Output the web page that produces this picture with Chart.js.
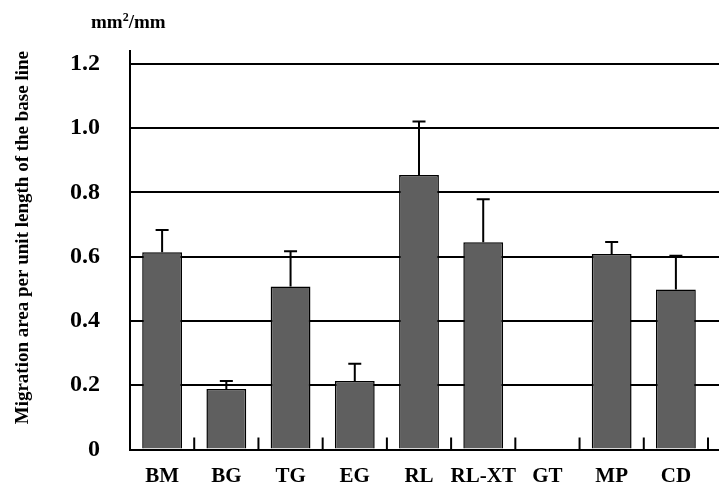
<!DOCTYPE html>
<html lang="en">

<head>
    <meta charset="UTF-8">
    <title>Migration area</title>
    <script src="https://cdn.jsdelivr.net/npm/chart.js"></script>
    <style>
        html, body { margin: 0; padding: 0; background: #fff; overflow: hidden; }
        #wrap { position: relative; width: 719px; height: 489px; }
        #unit {
            position: absolute; left: 91px; top: 10px;
            font: bold 19px "Liberation Serif", "Times New Roman", serif;
        }
    </style>
</head>

<body>
    <div id="wrap">
        <div id="unit">mm<sup style="font-size:12px">2</sup>/mm</div>
        <canvas id="myChart" width="719" height="489"></canvas>
    </div>
    <script>
        // groups and values
        const groups = ['BM', 'BG', 'TG', 'EG', 'RL', 'RL-XT', 'GT', 'MP', 'CD'];
        const meanArea = [0.614, 0.188, 0.507, 0.213, 0.854, 0.645, null, 0.608, 0.498];
        const upperErr = [0.683, 0.213, 0.617, 0.267, 1.021, 0.779, null, 0.646, 0.603];
        const yTicks = [0, 0.2, 0.4, 0.6, 0.8, 1.0, 1.2];

        const serif = '"Liberation Serif", "Times New Roman", serif';

        // error bars (upper only) + inner x ticks + grid lines running to the edge
        const extras = {
            id: 'extras',
            afterDatasetsDraw(chart) {
                const ctx = chart.ctx;
                const x = chart.scales.x;
                const y = chart.scales.y;
                const area = chart.chartArea;
                ctx.save();
                ctx.strokeStyle = '#000';
                ctx.lineWidth = 2;

                // grid lines continue past the last group to the image edge
                yTicks.forEach(v => {
                    const py = Math.round(y.getPixelForValue(v));
                    ctx.beginPath();
                    ctx.moveTo(area.right, py);
                    ctx.lineTo(chart.width, py);
                    ctx.stroke();
                });

                // small upward ticks between groups
                for (let i = 0; i < groups.length; i++) {
                    const px = (x.getPixelForValue(i) + (i + 1 < groups.length ? x.getPixelForValue(i + 1) : 2 * x.getPixelForValue(i) - x.getPixelForValue(i - 1))) / 2;
                    ctx.beginPath();
                    ctx.moveTo(px, area.bottom);
                    ctx.lineTo(px, area.bottom - 12);
                    ctx.stroke();
                }

                // error bars
                upperErr.forEach((e, i) => {
                    if (e === null) return;
                    const px = x.getPixelForValue(i);
                    const top = y.getPixelForValue(e);
                    const base = y.getPixelForValue(meanArea[i]);
                    ctx.beginPath();
                    ctx.moveTo(px, base);
                    ctx.lineTo(px, top);
                    ctx.moveTo(px - 6.5, top);
                    ctx.lineTo(px + 6.5, top);
                    ctx.stroke();
                });
                ctx.restore();
            }
        };

        const ctx = document.getElementById('myChart').getContext('2d');
        const myChart = new Chart(ctx, {
            type: 'bar',
            data: {
                labels: groups,
                datasets: [{
                    data: meanArea,
                    backgroundColor: '#5f5f5f',
                    borderColor: '#000',
                    borderWidth: 1.5,
                    barPercentage: 0.62,
                    categoryPercentage: 1.0
                }]
            },
            options: {
                responsive: false,
                animation: false,
                layout: { padding: { top: 51, right: 11, left: 0, bottom: 0 } },
                plugins: {
                    legend: { display: false },
                    tooltip: { enabled: false }
                },
                scales: {
                    x: {
                        grid: { display: false, drawTicks: false },
                        border: { display: true, color: '#000', width: 2 },
                        ticks: {
                            color: '#000',
                            padding: 14,
                            maxRotation: 0,
                            autoSkip: false,
                            font: { family: serif, size: 21, weight: 'bold' }
                        },
                        afterFit(scale) { scale.height = 39.5; }
                    },
                    y: {
                        min: 0,
                        max: 1.24,
                        afterBuildTicks(scale) {
                            scale.ticks = yTicks.map(v => ({ value: v }));
                        },
                        // invisible tick marks give the gap between labels and axis
                        grid: { color: '#000', lineWidth: 2, drawTicks: true, tickLength: 30, tickColor: 'rgba(0,0,0,0)' },
                        border: { display: true, color: '#000', width: 2 },
                        ticks: {
                            color: '#000',
                            padding: 0,
                            font: { family: serif, size: 24, weight: 'bold' },
                            callback: v => (v === 0 ? '0' : v.toFixed(1))
                        },
                        title: {
                            display: true,
                            align: 'end',
                            text: 'Migration area per unit length of the base line',
                            color: '#000',
                            font: { family: serif, size: 19, weight: 'bold' },
                            padding: { top: 12, bottom: 0 }
                        },
                        afterFit(scale) { scale.width = 130; }
                    }
                }
            },
            plugins: [extras]
        });
    </script>
</body>

</html>
